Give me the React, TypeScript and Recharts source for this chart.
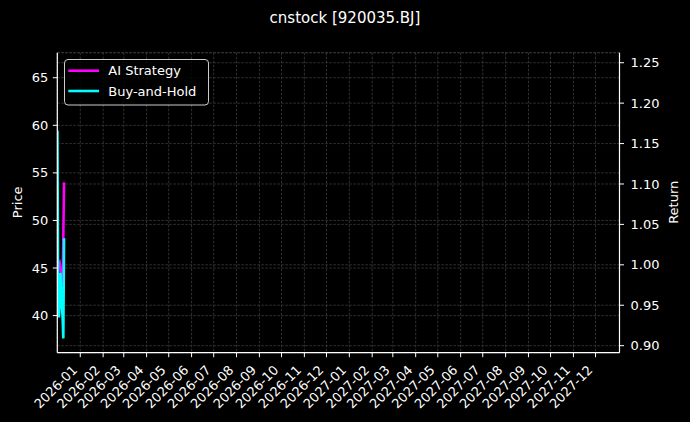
import React from 'react';
import { LineChart, Line, XAxis, YAxis, CartesianGrid, Legend } from 'recharts';

// ---- data ----
const dates = ['2025-12-01', '2025-12-02', '2025-12-03', '2025-12-04', '2025-12-05', '2025-12-08', '2025-12-09', '2025-12-10'];
const aiStrategy = [1.0, 1.0, 1.0, 1.002, 0.995, 0.975, 1.035, 1.102];
const buyAndHold = [1.166, 0.945, 0.935, 0.95, 0.99, 0.935, 0.909, 1.033];
const priceTicks = [40, 45, 50, 55, 60, 65];
const returnTicks = [0.9, 0.95, 1.0, 1.05, 1.1, 1.15, 1.2, 1.25];
const monthTicks = [
  '2026-01', '2026-02', '2026-03', '2026-04', '2026-05', '2026-06', '2026-07', '2026-08', '2026-09', '2026-10', '2026-11', '2026-12',
  '2027-01', '2027-02', '2027-03', '2027-04', '2027-05', '2027-06', '2027-07', '2027-08', '2027-09', '2027-10', '2027-11', '2027-12',
];
const titleText = 'cnstock [920035.BJ]';

const FONT = '"DejaVu Sans", sans-serif';

const toTs = (s: string) => {
  const [y, m, d] = s.split('-').map(Number);
  return Date.UTC(y, m - 1, d || 1);
};
const fmtMonth = (t: number) => {
  const d = new Date(t);
  return `${d.getUTCFullYear()}-${String(d.getUTCMonth() + 1).padStart(2, '0')}`;
};

const data = dates.map((d, i) => ({ t: toTs(d), ai: aiStrategy[i], bh: buyAndHold[i] }));
const xTicks = monthTicks.map(toTs);
const xDomain = [Date.UTC(2025, 10, 30, 20), Date.UTC(2028, 0, 2, 12)];
const priceDomain = [36.1, 67.63];
const returnDomain = [0.8913, 1.2624];

const XTick = (props: any) => {
  const { x, y, payload } = props;
  return (
    <g transform={`translate(${x},${y})`}>
      <text
        transform="translate(-2.2,11.7) rotate(-45)"
        textAnchor="end"
        fill="#ffffff"
        fontSize={13}
        fontFamily={FONT}
      >
        {fmtMonth(payload.value)}
      </text>
    </g>
  );
};

const LegendBox = (props: any) => {
  const payload = (props.payload || []) as any[];
  return (
    <svg width={146} height={48} style={{ display: 'block' }}>
      <rect x={0.5} y={0.5} width={144} height={45.5} rx={3.5} ry={3.5} fill="rgba(0,0,0,0.8)" stroke="#cccccc" strokeWidth={1} />
      {payload.map((p, i) => {
        const cy = 11.7 + i * 20.3;
        return (
          <g key={i}>
            <line x1={4.3} x2={35} y1={cy} y2={cy} stroke={p.color} strokeWidth={2.6} />
            <text x={44.3} y={cy + 4.7} fill="#ffffff" fontSize={13} fontFamily={FONT}>
              {p.value}
            </text>
          </g>
        );
      })}
    </svg>
  );
};

export default function App() {
  if (typeof document !== 'undefined') {
    document.body.style.background = '#000';
  }
  return (
    <div style={{ position: 'absolute', left: 0, top: 0, width: 690, height: 422, background: '#000', overflow: 'hidden' }}>
      <LineChart
        width={690}
        height={422}
        data={data}
        margin={{ top: 52.7, right: 0, bottom: 0, left: 0 }}
        style={{ fontFamily: FONT }}
      >
        <CartesianGrid
          xAxisId="bottom"
          yAxisId="left"
          stroke="#3e3e3e"
          strokeDasharray="2.5 1.5"
          strokeWidth={0.8}
        />
        <CartesianGrid
          xAxisId="bottom"
          yAxisId="right"
          vertical={false}
          stroke="#3e3e3e"
          strokeDasharray="2.5 1.5"
          strokeWidth={0.8}
        />
        <XAxis
          xAxisId="bottom"
          dataKey="t"
          type="number"
          scale="linear"
          domain={xDomain}
          allowDataOverflow
          ticks={xTicks}
          interval={0}
          height={69.3}
          tick={<XTick />}
          tickSize={4.5}
          tickMargin={2}
          tickLine={{ stroke: '#ffffff', strokeWidth: 1 }}
          axisLine={{ stroke: '#ffffff', strokeWidth: 1.2 }}
        />
        <XAxis
          xAxisId="top"
          dataKey="t"
          type="number"
          orientation="top"
          domain={xDomain}
          allowDataOverflow
          height={0}
          tick={false}
          tickLine={false}
          axisLine={{ stroke: '#ffffff', strokeWidth: 1.2 }}
        />
        <YAxis
          yAxisId="left"
          orientation="left"
          type="number"
          domain={priceDomain}
          allowDataOverflow
          ticks={priceTicks}
          interval={0}
          width={57.3}
          tickSize={4.5}
          tickMargin={4.5}
          tick={{ fill: '#ffffff', fontSize: 13, fontFamily: FONT }}
          tickLine={{ stroke: '#ffffff', strokeWidth: 1 }}
          axisLine={{ stroke: '#ffffff', strokeWidth: 1.2 }}
        />
        <YAxis
          yAxisId="right"
          orientation="right"
          type="number"
          domain={returnDomain}
          allowDataOverflow
          ticks={returnTicks}
          interval={0}
          width={70.5}
          tickSize={4.5}
          tickMargin={6.5}
          tickFormatter={(v: number) => v.toFixed(2)}
          tick={{ fill: '#ffffff', fontSize: 13, fontFamily: FONT }}
          tickLine={{ stroke: '#ffffff', strokeWidth: 1 }}
          axisLine={{ stroke: '#ffffff', strokeWidth: 1.2 }}
        />
        <Line
          xAxisId="bottom"
          yAxisId="right"
          type="linear"
          dataKey="ai"
          name="AI Strategy"
          stroke="#ff00ff"
          strokeWidth={2.6}
          dot={false}
          isAnimationActive={false}
        />
        <Line
          xAxisId="bottom"
          yAxisId="right"
          type="linear"
          dataKey="bh"
          name="Buy-and-Hold"
          stroke="#00ffff"
          strokeWidth={2.6}
          dot={false}
          isAnimationActive={false}
        />
        <Legend
          layout="vertical"
          verticalAlign="middle"
          align="center"
          content={<LegendBox />}
          wrapperStyle={{ position: 'absolute', left: 64, top: 59, width: 146, height: 48, right: 'auto', bottom: 'auto' }}
        />
      </LineChart>
      <svg width={690} height={422} style={{ position: 'absolute', left: 0, top: 0, pointerEvents: 'none' }}>
        <text x={345} y={23} textAnchor="middle" fill="#ffffff" fontSize={15} fontFamily={FONT}>
          {titleText}
        </text>
        <text transform="translate(21.5,202.3) rotate(-90)" textAnchor="middle" fill="#ffffff" fontSize={13} fontFamily={FONT}>
          Price
        </text>
        <text transform="translate(678.3,202.3) rotate(-90)" textAnchor="middle" fill="#ffffff" fontSize={13} fontFamily={FONT}>
          Return
        </text>
      </svg>
    </div>
  );
}
